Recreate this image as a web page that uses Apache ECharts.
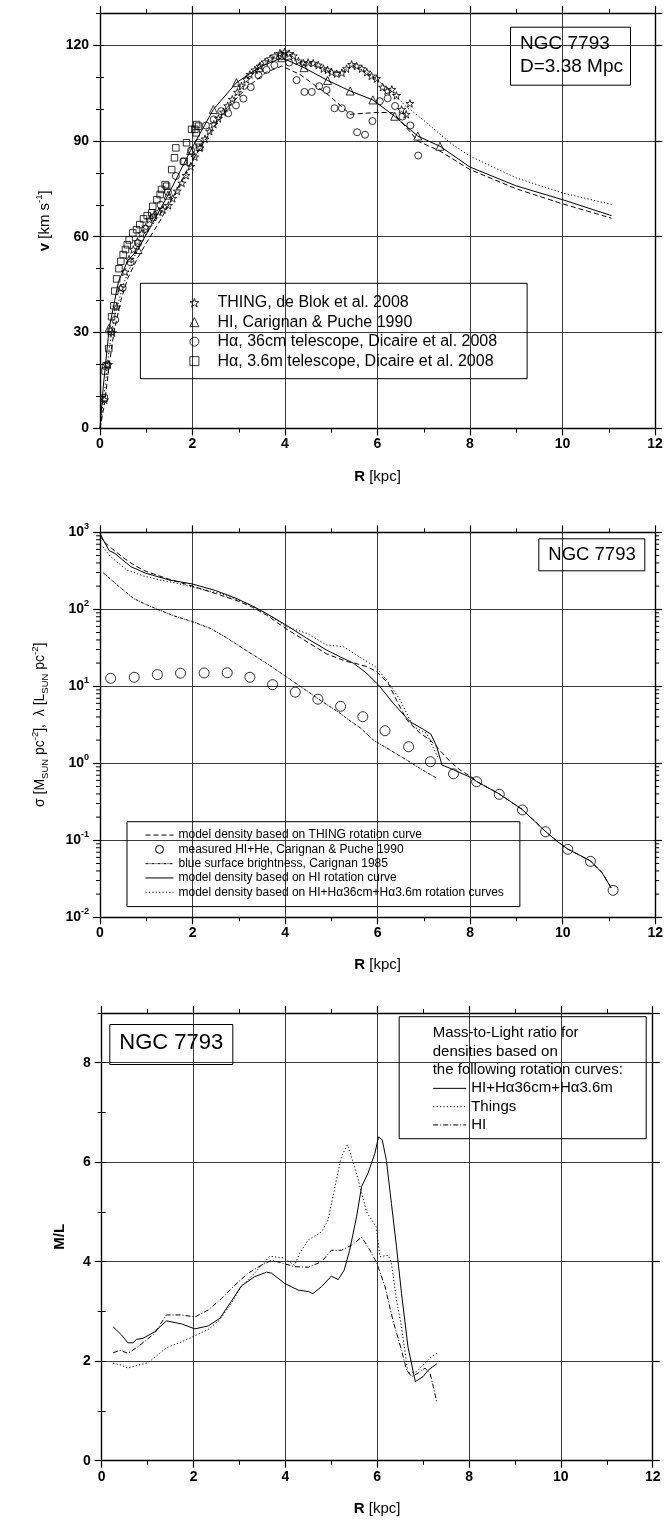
<!DOCTYPE html>
<html>
<head>
<meta charset="utf-8">
<script src="https://cdn.jsdelivr.net/npm/echarts@6/dist/echarts.min.js"></script>
<style>
  html, body { margin: 0; padding: 0; background: #fff; }
  #chart { width: 666px; height: 1528px; }
</style>
</head>
<body>
<div id="chart"></div>
<script>
// ---------- NGC 7793: rotation curves (top panel), [R kpc, v km/s] ----------
const thingsStars = [
  [0.10,9],[0.18,20],[0.27,30],[0.36,38],[0.45,44],[0.54,49],[0.63,53],[0.72,56],[0.81,58.5],[0.90,61],
  [0.99,63],[1.07,65.4],[1.17,66.8],[1.27,67.8],[1.36,68.5],[1.48,69.8],[1.57,72],[1.67,74.3],[1.77,76.8],
  [1.86,79.2],[1.96,82],[2.05,85],[2.16,87.8],[2.27,90.6],[2.37,93],[2.46,95.2],[2.56,97],[2.67,99],
  [2.76,101],[2.86,103],[2.97,105.2],[3.06,107.2],[3.16,109.2],[3.24,110.8],[3.35,112.2],[3.46,113.4],
  [3.57,114.7],[3.68,115.7],[3.78,116.6],[3.89,117.4],[3.99,117.8],[4.09,117.3],[4.18,116.6],[4.29,115],
  [4.40,114.3],[4.50,114.5],[4.61,114.3],[4.72,113.7],[4.83,112.6],[4.92,112.2],[5.01,111.5],[5.12,111],
  [5.23,111.3],[5.33,112.6],[5.44,113.9],[5.55,113.4],[5.66,112.6],[5.77,111.5],[5.87,110.3],[5.98,109.5],
  [6.11,106.8],[6.21,105.6],[6.31,106.1],[6.41,104.2],[6.52,99.8],[6.62,98.3],[6.70,101.7]
];
const hiTriangles = [
  [0.20,31.5],[0.82,56],[1.47,73],[1.96,87],[2.45,99.8],[2.95,108.2],[3.44,113],[3.93,116],[4.41,112.9],
  [4.92,108.9],[5.41,105.6],[5.90,102.8],[6.37,97.7],[6.87,91.5],[7.35,88.3]
];
const ha36Circles = [
  [0.16,20],[0.33,34],[0.49,44],[0.66,52],[0.82,58],[0.98,62.5],[1.15,66],[1.31,70],[1.47,74],[1.64,79],
  [1.80,83.5],[1.97,87],[2.13,89.4],[2.29,94.8],[2.46,96.7],[2.62,99.3],[2.77,98.6],[2.94,101.1],[3.10,103.2],
  [3.26,106.8],[3.43,110.5],[3.60,112.2],[3.77,113.7],[4.09,114.5],[4.25,109],[4.42,105.3],[4.58,105.3],
  [4.74,107.1],[4.90,105.9],[5.07,100.2],[5.23,100.2],[5.41,98.1],[5.56,92.7],[5.73,91.9],[5.89,96.2],
  [6.05,102.4],[6.22,103.3],[6.38,100.9],[6.54,97.6],[6.71,94.8],[6.88,85.4]
];
const ha36mSquares = [
  [0.09,9.5],[0.11,18],[0.13,19.6],[0.19,25],[0.24,30.4],[0.25,35],[0.30,38.4],[0.32,43],[0.36,46.8],
  [0.41,50],[0.45,52.3],[0.50,54.4],[0.55,56],[0.59,57.5],[0.63,59],[0.71,61.2],[0.79,62.2],[0.86,63.8],
  [0.94,65.6],[1.02,66.6],[1.12,67.5],[1.14,69.5],[1.23,71.6],[1.30,73.2],[1.33,74.8],[1.41,76.3],
  [1.44,75.8],[1.55,81],[1.61,84.7],[1.64,87.8],[1.82,83.6],[1.87,89.4],[1.98,93.6],[2.05,93.6],
  [2.08,92.5],[2.09,95.1],[2.13,94.6],[2.15,88],[3.93,116.5]
];
// model rotation curves
const vModelHI = [
  [0,0],[0.07,13],[0.20,31.5],[0.40,46],[0.60,52.5],[0.82,56],[1.47,73],[1.96,87],[2.45,99.8],[2.95,108.2],
  [3.44,113],[3.93,116],[4.41,112.9],[4.92,108.9],[5.41,105.6],[5.90,102.8],[6.37,97.7],[6.87,91.5],
  [7.35,88.3],[8.0,81.8],[9.0,75.9],[10.0,71.6],[11.06,66.6]
];
const vModelHa = [
  [0,0],[0.1,8],[0.2,20],[0.3,30],[0.45,40],[0.6,47],[0.8,53],[1.0,58],[1.3,65],[1.6,73],[2.0,84],
  [2.4,93],[2.8,101],[3.2,107],[3.6,111.5],[3.93,113.4],[4.32,110.8],[4.97,104],[5.41,98.3],[5.7,98.6],
  [6.0,98.9],[6.34,98.8],[6.88,89.9],[7.35,86.8],[8.0,81],[9.0,75],[10.0,70.3],[11.06,65.8]
];
const vModelThings = [
  [0,0],[0.1,12],[0.2,25],[0.3,34],[0.5,45],[0.75,54],[1.0,61],[1.3,67],[1.5,70.5],[1.8,77.5],[2.0,83.5],
  [2.3,91],[2.6,97.5],[3.0,105.5],[3.3,111],[3.6,115],[3.9,117.5],[4.1,117],[4.3,115],[4.6,114],[5.0,111.5],
  [5.2,111.3],[5.45,113.5],[5.7,112],[6.0,109],[6.3,105.5],[6.6,101],[7.06,95.7],[7.57,89.4],[8.0,85.2],
  [9.0,78.4],[10.0,73.7],[11.06,70.1]
];

// ---------- surface densities (middle panel), [R kpc, value] ----------
const gasRadii  = [0.23,0.74,1.24,1.74,2.25,2.75,3.24,3.73,4.22,4.71,5.20,5.68,6.16,6.67,7.14,7.64,
                   8.14,8.63,9.13,9.63,10.11,10.60,11.09];
const gasSigma  = [12.7,13.1,14.2,14.8,14.9,15.0,13.1,10.5,8.4,6.8,5.5,4.03,2.65,1.64,1.05,0.73,
                   0.577,0.395,0.248,0.129,0.0764,0.0533,0.0224];
const sigmaThings = [
  [0,900],[0.1,740],[0.25,620],[0.5,470],[0.75,370],[1.0,310],[1.5,245],[2.0,200],[2.5,160],[3.0,127],
  [3.3,106],[3.6,84],[4.0,57],[4.5,37],[4.9,26.3],[5.33,21],[5.5,20],[5.77,18],[5.98,15.5],[6.23,10.9],
  [6.41,6.6],[6.63,3.65],[6.92,2.45],[7.14,2.0],[7.35,1.46],[7.57,1.05],[7.78,0.82],[8.07,0.64],
  [8.14,0.58],[8.63,0.40],[9.13,0.25],[9.63,0.13],[9.9,0.095],[10.11,0.077],[10.6,0.054],[10.85,0.038],[11.05,0.024]
];
const lambdaBlue = [
  [0.07,298],[0.4,200],[0.72,139],[1.0,115],[1.28,98],[1.6,82],[2.0,69],[2.38,56.6],[2.7,44],[3.03,32.7],
  [3.6,19.9],[4.18,11.5],[4.76,6.6],[5.19,4.46],[5.33,3.84],[5.62,2.9],[5.91,2.0],[6.3,1.45],[6.63,1.1],
  [7.0,0.8],[7.28,0.64]
];
const sigmaHI = [
  [0,970],[0.11,720],[0.2,577],[0.32,533],[0.49,437],[0.67,357],[0.99,294],[1.5,240],[2.0,213],[2.5,175],
  [2.94,139],[3.3,110],[3.59,88.6],[4.02,62.5],[4.47,42],[4.9,29.5],[5.2,24],[5.48,19.9],[5.75,15],
  [6.02,10.4],[6.34,6.0],[6.7,3.47],[6.99,2.76],[7.15,2.4],[7.28,1.64],[7.39,0.95],[7.57,0.86],[8.0,0.66],
  [8.14,0.58],[8.63,0.40],[9.13,0.25],[9.63,0.13],[9.9,0.095],[10.11,0.077],[10.6,0.054],[10.85,0.038],[11.05,0.024]
];
const sigmaHIHa = [
  [0,680],[0.07,640],[0.23,482],[0.58,324],[0.94,271],[1.3,240],[1.66,218],[2.02,193],[2.59,161],[3.17,120],
  [3.6,88],[4.04,59],[4.47,48.7],[4.9,34.4],[5.26,32.7],[5.48,26.9],[5.95,18],[6.2,12],[6.49,6.6],
  [6.77,3.0],[7.06,2.45],[7.3,1.2]
];
// minor tick values of the logarithmic density axis
const sigmaMinorTicks = [
  0.02,0.03,0.04,0.05,0.06,0.07,0.08,0.09,
  0.2,0.3,0.4,0.5,0.6,0.7,0.8,0.9,
  2,3,4,5,6,7,8,9,
  20,30,40,50,60,70,80,90,
  200,300,400,500,600,700,800,900
];

// ---------- mass-to-light ratio (bottom panel), [R kpc, M/L] ----------
const mlHIHa = [
  [0.25,2.69],[0.43,2.53],[0.57,2.37],[0.68,2.37],[0.76,2.44],[0.90,2.46],[1.15,2.59],[1.41,2.81],[1.74,2.75],
  [2.03,2.65],[2.32,2.71],[2.57,2.86],[2.82,3.20],[3.04,3.51],[3.33,3.70],[3.59,3.79],[3.70,3.77],[3.99,3.56],
  [4.28,3.43],[4.50,3.40],[4.60,3.36],[4.79,3.50],[5.00,3.71],[5.15,3.64],[5.28,3.83],[5.40,4.23],[5.55,4.90],
  [5.66,5.51],[5.80,5.78],[5.95,6.18],[6.03,6.51],[6.11,6.45],[6.20,6.04],[6.31,5.17],[6.42,4.30],[6.53,3.36],
  [6.67,2.29],[6.83,1.59],[7.00,1.69],[7.11,1.82],[7.30,1.95]
];
const mlThings = [
  [0.25,1.96],[0.43,1.92],[0.57,1.86],[0.79,1.92],[1.01,1.97],[1.41,2.27],[1.74,2.39],[2.03,2.51],[2.32,2.64],
  [2.57,2.83],[2.82,3.16],[3.04,3.50],[3.33,3.77],[3.66,4.11],[3.95,4.08],[4.20,3.93],[4.31,4.17],[4.50,4.44],
  [4.79,4.60],[4.93,4.84],[5.08,5.51],[5.22,6.11],[5.35,6.35],[5.44,6.11],[5.59,5.64],[5.77,5.00],[5.98,4.70],
  [6.06,4.10],[6.24,4.13],[6.31,3.97],[6.42,3.23],[6.53,2.69],[6.67,1.76],[6.86,1.79],[7.04,1.96],[7.18,2.09],[7.30,2.16]
];
const mlHI = [
  [0.25,2.17],[0.40,2.22],[0.57,2.16],[0.79,2.29],[1.15,2.56],[1.41,2.93],[1.74,2.93],[2.03,2.89],[2.32,3.03],
  [2.61,3.26],[2.90,3.53],[3.19,3.77],[3.48,3.93],[3.70,4.03],[3.91,3.98],[4.20,3.90],[4.50,3.89],[4.79,4.00],
  [5.00,4.23],[5.22,4.23],[5.44,4.33],[5.66,4.49],[5.80,4.30],[5.98,4.00],[6.17,3.50],[6.34,2.83],[6.53,2.22],
  [6.64,1.82],[6.75,1.69],[6.89,1.76],[7.04,1.86],[7.15,1.76],[7.22,1.50],[7.30,1.16]
];

// ---------- styling ----------
const FONT = "'Liberation Sans', Arial, Helvetica, sans-serif";
const INK = '#000';
const STAR = 'path://M50,0 L61.8,35.1 L98.9,35.5 L69.1,57.6 L80.3,93 L50,71.5 L19.7,93 L30.9,57.6 L1.1,35.5 L38.2,35.1 Z';
const HOLLOW = { color: 'rgba(255,255,255,0)', borderColor: INK, borderWidth: 1 };

const AX_LINE = { show: true, onZero: false, lineStyle: { color: INK, width: 1.4 } };
const GRID_LINE = { show: true, lineStyle: { color: '#3a3a3a', width: 1 } };
const TICK_MAJOR = { show: true, inside: false, length: 7, lineStyle: { color: INK, width: 1.2 } };
const TICK_MINOR = { show: true, inside: false, length: 4, lineStyle: { color: INK, width: 1 } };
const TICK_LABEL = { fontFamily: FONT, fontSize: 14, fontWeight: 'bold', color: INK };
const NAME_RICH = {
  b:   { fontFamily: FONT, fontSize: 15, fontWeight: 'bold', color: INK, lineHeight: 20 },
  sup: { fontFamily: FONT, fontSize: 9.5, color: INK, verticalAlign: 'top', lineHeight: 9 },
  sub: { fontFamily: FONT, fontSize: 9.5, color: INK, verticalAlign: 'bottom', lineHeight: 9 }
};

function radiusAxes(grid, nameGap) {
  const common = {
    gridIndex: grid, type: 'value', min: 0, max: 12, interval: 2,
    axisLine: AX_LINE, axisTick: TICK_MAJOR,
    minorTick: { show: true, splitNumber: 2, length: 4, lineStyle: { color: INK, width: 1 } }
  };
  return [
    Object.assign({}, common, {
      position: 'bottom',
      axisLabel: Object.assign({ margin: 9 }, TICK_LABEL),
      splitLine: GRID_LINE,
      name: '{b|R} [kpc]', nameLocation: 'middle', nameGap: nameGap,
      nameTextStyle: { fontFamily: FONT, fontSize: 15, color: INK, lineHeight: 20, rich: NAME_RICH }
    }),
    Object.assign({}, common, { position: 'top', axisLabel: { show: false }, splitLine: { show: false } })
  ];
}

function linearAxes(grid, max, major, minor, name, nameGap) {
  const base = { gridIndex: grid, type: 'value', min: 0, max: max };
  return [
    Object.assign({}, base, {
      position: 'left', interval: major, axisLine: AX_LINE, axisTick: TICK_MAJOR,
      axisLabel: Object.assign({ margin: 11, showMaxLabel: false }, TICK_LABEL),
      splitLine: GRID_LINE,
      name: name, nameLocation: 'middle', nameGap: nameGap,
      nameTextStyle: { fontFamily: FONT, fontSize: 15, color: INK, lineHeight: 20, rich: NAME_RICH }
    }),
    Object.assign({}, base, { position: 'left', interval: minor, axisLine: { show: false },
      axisTick: TICK_MINOR, axisLabel: { show: false }, splitLine: { show: false } }),
    Object.assign({}, base, { position: 'right', interval: major, axisLine: AX_LINE,
      axisTick: TICK_MAJOR, axisLabel: { show: false }, splitLine: { show: false } }),
    Object.assign({}, base, { position: 'right', interval: minor, axisLine: { show: false },
      axisTick: TICK_MINOR, axisLabel: { show: false }, splitLine: { show: false } })
  ];
}

const logRich = {
  b: { fontFamily: FONT, fontSize: 14, fontWeight: 'bold', color: INK, lineHeight: 20 },
  s: { fontFamily: FONT, fontSize: 9, fontWeight: 'bold', color: INK, lineHeight: 10, verticalAlign: 'top' }
};
const logAxes = [
  {
    gridIndex: 1, type: 'log', logBase: 10, min: 0.01, max: 1000, position: 'left',
    axisLine: AX_LINE, axisTick: TICK_MAJOR, splitLine: GRID_LINE,
    axisLabel: { margin: 11, formatter: v => '{b|10}{s|' + Math.round(Math.log10(v)) + '}', rich: logRich },
    name: '\u03c3 [M{sub|SUN} pc{sup|-2}],  \u03bb [L{sub|SUN} pc{sup|-2}]',
    nameLocation: 'middle', nameGap: 50,
    nameTextStyle: { fontFamily: FONT, fontSize: 14, color: INK, lineHeight: 20, rich: NAME_RICH }
  },
  {
    gridIndex: 1, type: 'log', logBase: 10, min: 0.01, max: 1000, position: 'right',
    axisLine: AX_LINE, axisTick: TICK_MAJOR, axisLabel: { show: false }, splitLine: { show: false }
  }
];

function line(name, data, xi, yi, type, width) {
  return {
    name: name, type: 'line', data: data, xAxisIndex: xi, yAxisIndex: yi,
    symbol: 'none', showSymbol: false, smooth: false, silent: true,
    lineStyle: { color: INK, width: width || 1, type: type || 'solid' },
    itemStyle: { color: INK }, z: 3
  };
}
function scatter(name, data, xi, yi, symbol, size) {
  return {
    name: name, type: 'scatter', data: data, xAxisIndex: xi, yAxisIndex: yi,
    symbol: symbol, symbolSize: size, symbolKeepAspect: true, silent: true,
    itemStyle: HOLLOW, z: 4
  };
}

const DASH = [5, 3], DOT = [1.2, 2.2], DASHDOT = [5, 2, 1, 2], DASHDOTDOT = [3, 1, 1, 1];

const N1 = ['THING, de Blok et al. 2008', 'HI, Carignan & Puche 1990',
            'H\u03b1, 36cm telescope, Dicaire et al. 2008', 'H\u03b1, 3.6m telescope, Dicaire et al. 2008'];
const N2 = ['model density based on THING rotation curve', 'measured HI+He, Carignan & Puche 1990',
            'blue surface brightness, Carignan 1985', 'model density based on HI rotation curve',
            'model density based on HI+H\u03b136cm+H\u03b13.6m rotation curves'];
const N3 = ['HI+H\u03b136cm+H\u03b13.6m', 'Things', 'HI'];

const series = [
  // top panel
  line('v model HI', vModelHI, 0, 0),
  line('v model Halpha', vModelHa, 0, 0, DASH),
  line('v model THINGS', vModelThings, 0, 0, DOT),
  scatter(N1[0], thingsStars, 0, 0, STAR, 8),
  scatter(N1[1], hiTriangles, 0, 0, 'triangle', 8),
  scatter(N1[2], ha36Circles, 0, 0, 'circle', 7),
  scatter(N1[3], ha36mSquares, 0, 0, 'rect', 6.5),
  // middle panel
  line(N2[0], sigmaThings, 2, 4, DASH),
  scatter(N2[1], gasRadii.map((r, i) => [r, gasSigma[i]]), 2, 4, 'circle', 10),
  line(N2[2], lambdaBlue, 2, 4, DASHDOTDOT),
  line(N2[3], sigmaHI, 2, 4),
  line(N2[4], sigmaHIHa, 2, 4, DOT),
  {
    name: 'log minor ticks', type: 'custom', xAxisIndex: 2, yAxisIndex: 4, silent: true, clip: false,
    data: sigmaMinorTicks.map(v => [0, v]),
    renderItem: function (params, api) {
      const v = api.value(1);
      const pl = api.coord([0, v]);
      const pr = api.coord([12, v]);
      const st = { stroke: INK, lineWidth: 1 };
      return { type: 'group', children: [
        { type: 'line', shape: { x1: pl[0] - 4, y1: pl[1], x2: pl[0], y2: pl[1] }, style: st },
        { type: 'line', shape: { x1: pr[0], y1: pr[1], x2: pr[0] + 4, y2: pr[1] }, style: st }
      ] };
    }
  },
  // bottom panel
  line(N3[0], mlHIHa, 4, 6),
  line(N3[1], mlThings, 4, 6, DOT),
  line(N3[2], mlHI, 4, 6, DASHDOT)
];

const option = {
  animation: false,
  backgroundColor: '#fff',
  textStyle: { fontFamily: FONT },
  grid: [
    { left: 100, top: 13, width: 555, height: 415.5 },
    { left: 100, top: 532.3, width: 555.5, height: 385 },
    { left: 101.7, top: 1013, width: 551, height: 447.7 }
  ],
  xAxis: [].concat(radiusAxes(0, 38), radiusAxes(1, 38), radiusAxes(2, 38)),
  yAxis: [].concat(
    linearAxes(0, 130, 30, 10, '{b|v} [km s{sup|-1}]', 42),
    logAxes,
    linearAxes(2, 9, 2, 1, '{b|M/L}', 32)
  ),
  title: [
    { text: 'NGC 7793\nD=3.38 Mpc', left: 510.7, top: 26.7, padding: [5, 8, 7, 9.3],
      borderColor: INK, borderWidth: 1,
      textStyle: { fontFamily: FONT, fontSize: 19, fontWeight: 'normal', color: INK, lineHeight: 23.3 } },
    { text: 'NGC 7793', left: 539, top: 538.3, padding: [5, 9, 5, 9.3],
      borderColor: INK, borderWidth: 1,
      textStyle: { fontFamily: FONT, fontSize: 18.5, fontWeight: 'normal', color: INK, lineHeight: 23 } },
    { text: 'NGC 7793', left: 109.3, top: 1024, padding: [6, 10, 9, 10],
      borderColor: INK, borderWidth: 1,
      textStyle: { fontFamily: FONT, fontSize: 22, fontWeight: 'normal', color: INK, lineHeight: 26 } },
    { text: 'Mass-to-Light ratio for\ndensities based on\nthe following rotation curves:',
      left: 399.3, top: 1016.7, padding: [7.5, 24, 60, 33.4],
      borderColor: INK, borderWidth: 1,
      textStyle: { fontFamily: FONT, fontSize: 15, fontWeight: 'normal', color: INK, lineHeight: 18.3 } }
  ],
  legend: [
    {
      data: [
        { name: N1[0], icon: STAR }, { name: N1[1], icon: 'triangle' },
        { name: N1[2], icon: 'circle' }, { name: N1[3], icon: 'rect' }
      ],
      orient: 'vertical', left: 140.4, top: 283.3, padding: [9.6, 30, 7.8, 49],
      borderColor: INK, borderWidth: 1, itemWidth: 9, itemHeight: 9, itemGap: 0,
      selectedMode: false,
      itemStyle: { color: 'rgba(255,255,255,0)', borderColor: INK, borderWidth: 1 },
      formatter: n => '{t|' + n + '}',
      textStyle: { fontFamily: FONT, fontSize: 16, color: INK, lineHeight: 19.5,
        rich: { t: { fontFamily: FONT, fontSize: 16, color: INK, lineHeight: 19.5, padding: [0, 0, 0, 13.6] } } }
    },
    {
      data: [
        { name: N2[0] },
        { name: N2[1], icon: 'circle', itemStyle: { opacity: 1, color: 'rgba(255,255,255,0)', borderColor: INK, borderWidth: 1 } },
        { name: N2[2] }, { name: N2[3] }, { name: N2[4] }
      ],
      orient: 'vertical', left: 127, top: 821.7, padding: [6.2, 16, 7.2, 18],
      borderColor: INK, borderWidth: 1, itemWidth: 28, itemHeight: 8, itemGap: 0,
      selectedMode: false,
      itemStyle: { opacity: 0 },
      lineStyle: { width: 1 },
      textStyle: { fontFamily: FONT, fontSize: 12, color: INK, lineHeight: 14.3 }
    },
    {
      data: N3.map(n => ({ name: n })),
      orient: 'vertical', left: 432.7, top: 1079.2, padding: 0,
      itemWidth: 33, itemHeight: 8, itemGap: 0, selectedMode: false,
      itemStyle: { opacity: 0 },
      lineStyle: { width: 1 },
      textStyle: { fontFamily: FONT, fontSize: 15, color: INK, lineHeight: 18.3 }
    }
  ],
  series: series
};

const chart = echarts.init(document.getElementById('chart'), null, { renderer: 'canvas' });
chart.setOption(option);
</script>
</body>
</html>
